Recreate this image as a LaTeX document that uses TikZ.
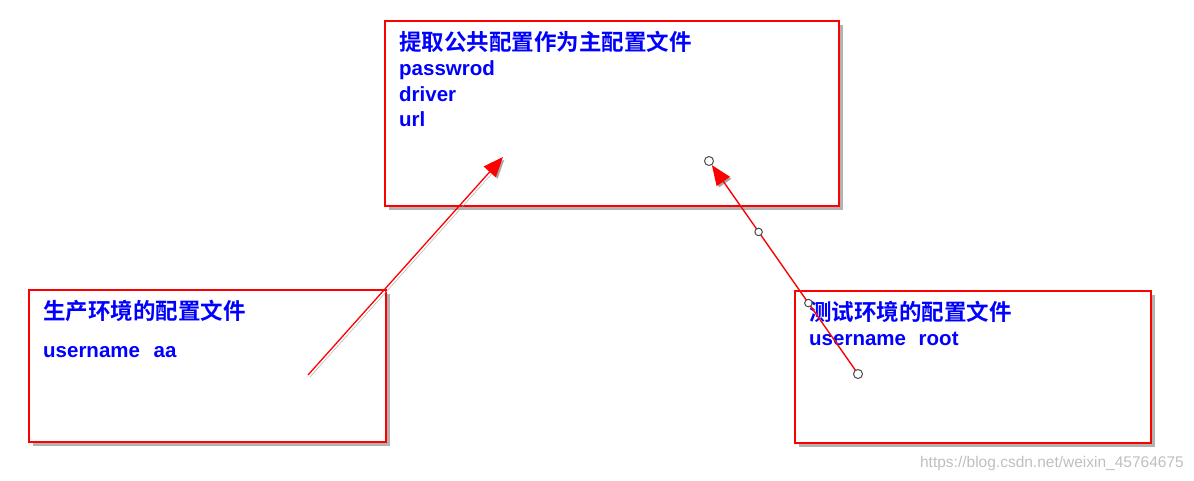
\documentclass[tikz,border=0pt]{standalone}
\usepackage{fontspec}
\setmainfont{Liberation Sans}
\newfontfamily\cjk[BoldFont={Noto Sans CJK SC Bold}]{Noto Sans CJK SC}
\usetikzlibrary{positioning,shadows,arrows.meta}

\begin{document}
\begin{tikzpicture}[
    x=1pt, y=-1pt,
    cfgbox/.style={rectangle, draw=red, line width=1.4pt, fill=white, outer sep=0pt, anchor=north west,
        drop shadow={shadow xshift=3.5pt, shadow yshift=-3.5pt, fill=black!60}},
    headtext/.style={inner sep=0pt, text height=16pt, text depth=5pt, text=blue,
        font=\cjk\bfseries\fontsize{22.5}{22.5}\selectfont},
    keytext/.style={inner sep=0pt, text height=16pt, text depth=5pt, text=blue,
        font=\bfseries\fontsize{20.5}{20.5}\selectfont},
    arrow/.style={-{Triangle[length=20pt,width=16pt]}, draw=red, line width=1.3pt,
        preaction={draw=black!35, transform canvas={shift={(2pt,-2pt)}}}},
    handle/.style={circle, draw=black!70, fill=white, line width=1pt, inner sep=0pt, minimum size=9pt},
    smallhandle/.style={handle, minimum size=7.5pt}
]
    \useasboundingbox (0,0) rectangle (1194,480);

    % Boxes
    \node[cfgbox, minimum width=454pt, minimum height=185pt] (main) at (385,21) {};
    \node[cfgbox, minimum width=357pt, minimum height=152pt] (prod) at (29,290) {};
    \node[cfgbox, minimum width=356pt, minimum height=152pt] (test) at (795,291) {};

    % Main config
    \node[headtext, below right=13pt and 14pt of main.north west] (mainTitle) {提取公共配置作为主配置文件};
    \node[keytext, below right=4pt and 0pt of mainTitle.south west] (mainPwd) {passwrod};
    \node[keytext, below right=4pt and 0pt of mainPwd.south west] (mainDriver) {driver};
    \node[keytext, below right=4pt and 0pt of mainDriver.south west] (mainUrl) {url};

    % Production config
    \node[headtext, below right=13pt and 14pt of prod.north west] (prodTitle) {生产环境的配置文件};
    \node[keytext, below right=17pt and 0pt of prodTitle.south west] (prodUser) {username \hspace{8pt}aa};

    % Test config
    \node[headtext, below right=13pt and 14pt of test.north west] (testTitle) {测试环境的配置文件};
    \node[keytext, below right=4pt and 0pt of testTitle.south west] (testUser) {username \hspace{7pt}root};

    % Arrows
    \coordinate (prodFrom) at (308,375);
    \coordinate (prodTo) at (503,157);
    \draw[arrow] (prodFrom) -- (prodTo);

    \coordinate (testFrom) at (858,374);
    \coordinate (testTo) at (709,161);
    \draw[arrow, shorten >=5pt] (testFrom) -- (testTo)
        node[handle, pos=0] (testH0) {}
        node[smallhandle, pos=0.333] (testH1) {}
        node[smallhandle, pos=0.667] (testH2) {}
        node[handle, pos=1] (testH3) {};

    % Watermark
    \node[anchor=base east, inner sep=0pt, text=black!25, font=\fontsize{15.5}{15.5}\selectfont]
        (mark) at (1184,467) {https://blog.csdn.net/weixin\_45764675};
\end{tikzpicture}
\end{document}
